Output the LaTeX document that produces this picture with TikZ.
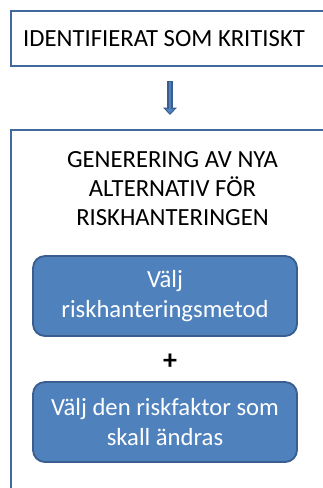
\documentclass[tikz,border=0pt]{standalone}
\usepackage{fontspec}
\setmainfont{Carlito}
\usetikzlibrary{arrows.meta}
\definecolor{frameblue}{HTML}{41699B}
\definecolor{choicefill}{HTML}{4F81BD}
\definecolor{choiceline}{HTML}{3A5F8E}
\tikzset{
  bodyfont/.style={font=\fontsize{18.5pt}{22pt}\selectfont},
  framebox/.style={draw=frameblue, line width=1.8pt, anchor=north west, bodyfont},
  choicebox/.style={draw=choiceline, fill=choicefill, line width=1.4pt, rounded corners=9pt,
    minimum width=198pt, minimum height=60pt, text=white, align=center, bodyfont},
  arrowouter/.style={draw=choiceline, line width=4.5pt, -{Triangle[width=10pt,length=5.5pt]},
    shorten <=10.5pt, shorten >=10.5pt},
  arrowinner/.style={draw=choicefill, line width=2.2pt, -{Triangle[width=6pt,length=3.3pt]},
    shorten <=11.3pt, shorten >=11.7pt},
}
\begin{document}
\begin{tikzpicture}[x=0.75pt, y=-0.75pt]
  \useasboundingbox (0,0) rectangle (323,488);
  \clip (0,0) rectangle (323,488);
  \node[framebox, minimum height=41.25pt, text width=300pt, inner xsep=9pt, align=flush left] (ident) at (10,10) {IDENTIFIERAT SOM KRITISKT};
  \node[framebox, minimum width=260pt, minimum height=300pt] (alt) at (10,129) {};
  \node[bodyfont, align=center, inner sep=0pt, anchor=north] (alttext) at (172.5,151) {GENERERING AV NYA\\ALTERNATIV FÖR\\RISKHANTERINGEN};
  \node[choicebox] (metod) at (165,296) {Välj\\riskhanteringsmetod};
  \node[font=\fontsize{21pt}{22pt}\selectfont\bfseries, inner sep=0pt] (plus) at (170,362) {+};
  \node[choicebox] (faktor) at (165,422) {Välj den riskfaktor som\\skall ändras};
  % block arrow
  \draw[arrowouter] (ident.south -| plus) -- (alt.north -| plus);
  \draw[arrowinner] (ident.south -| plus) -- (alt.north -| plus);
\end{tikzpicture}
\end{document}
